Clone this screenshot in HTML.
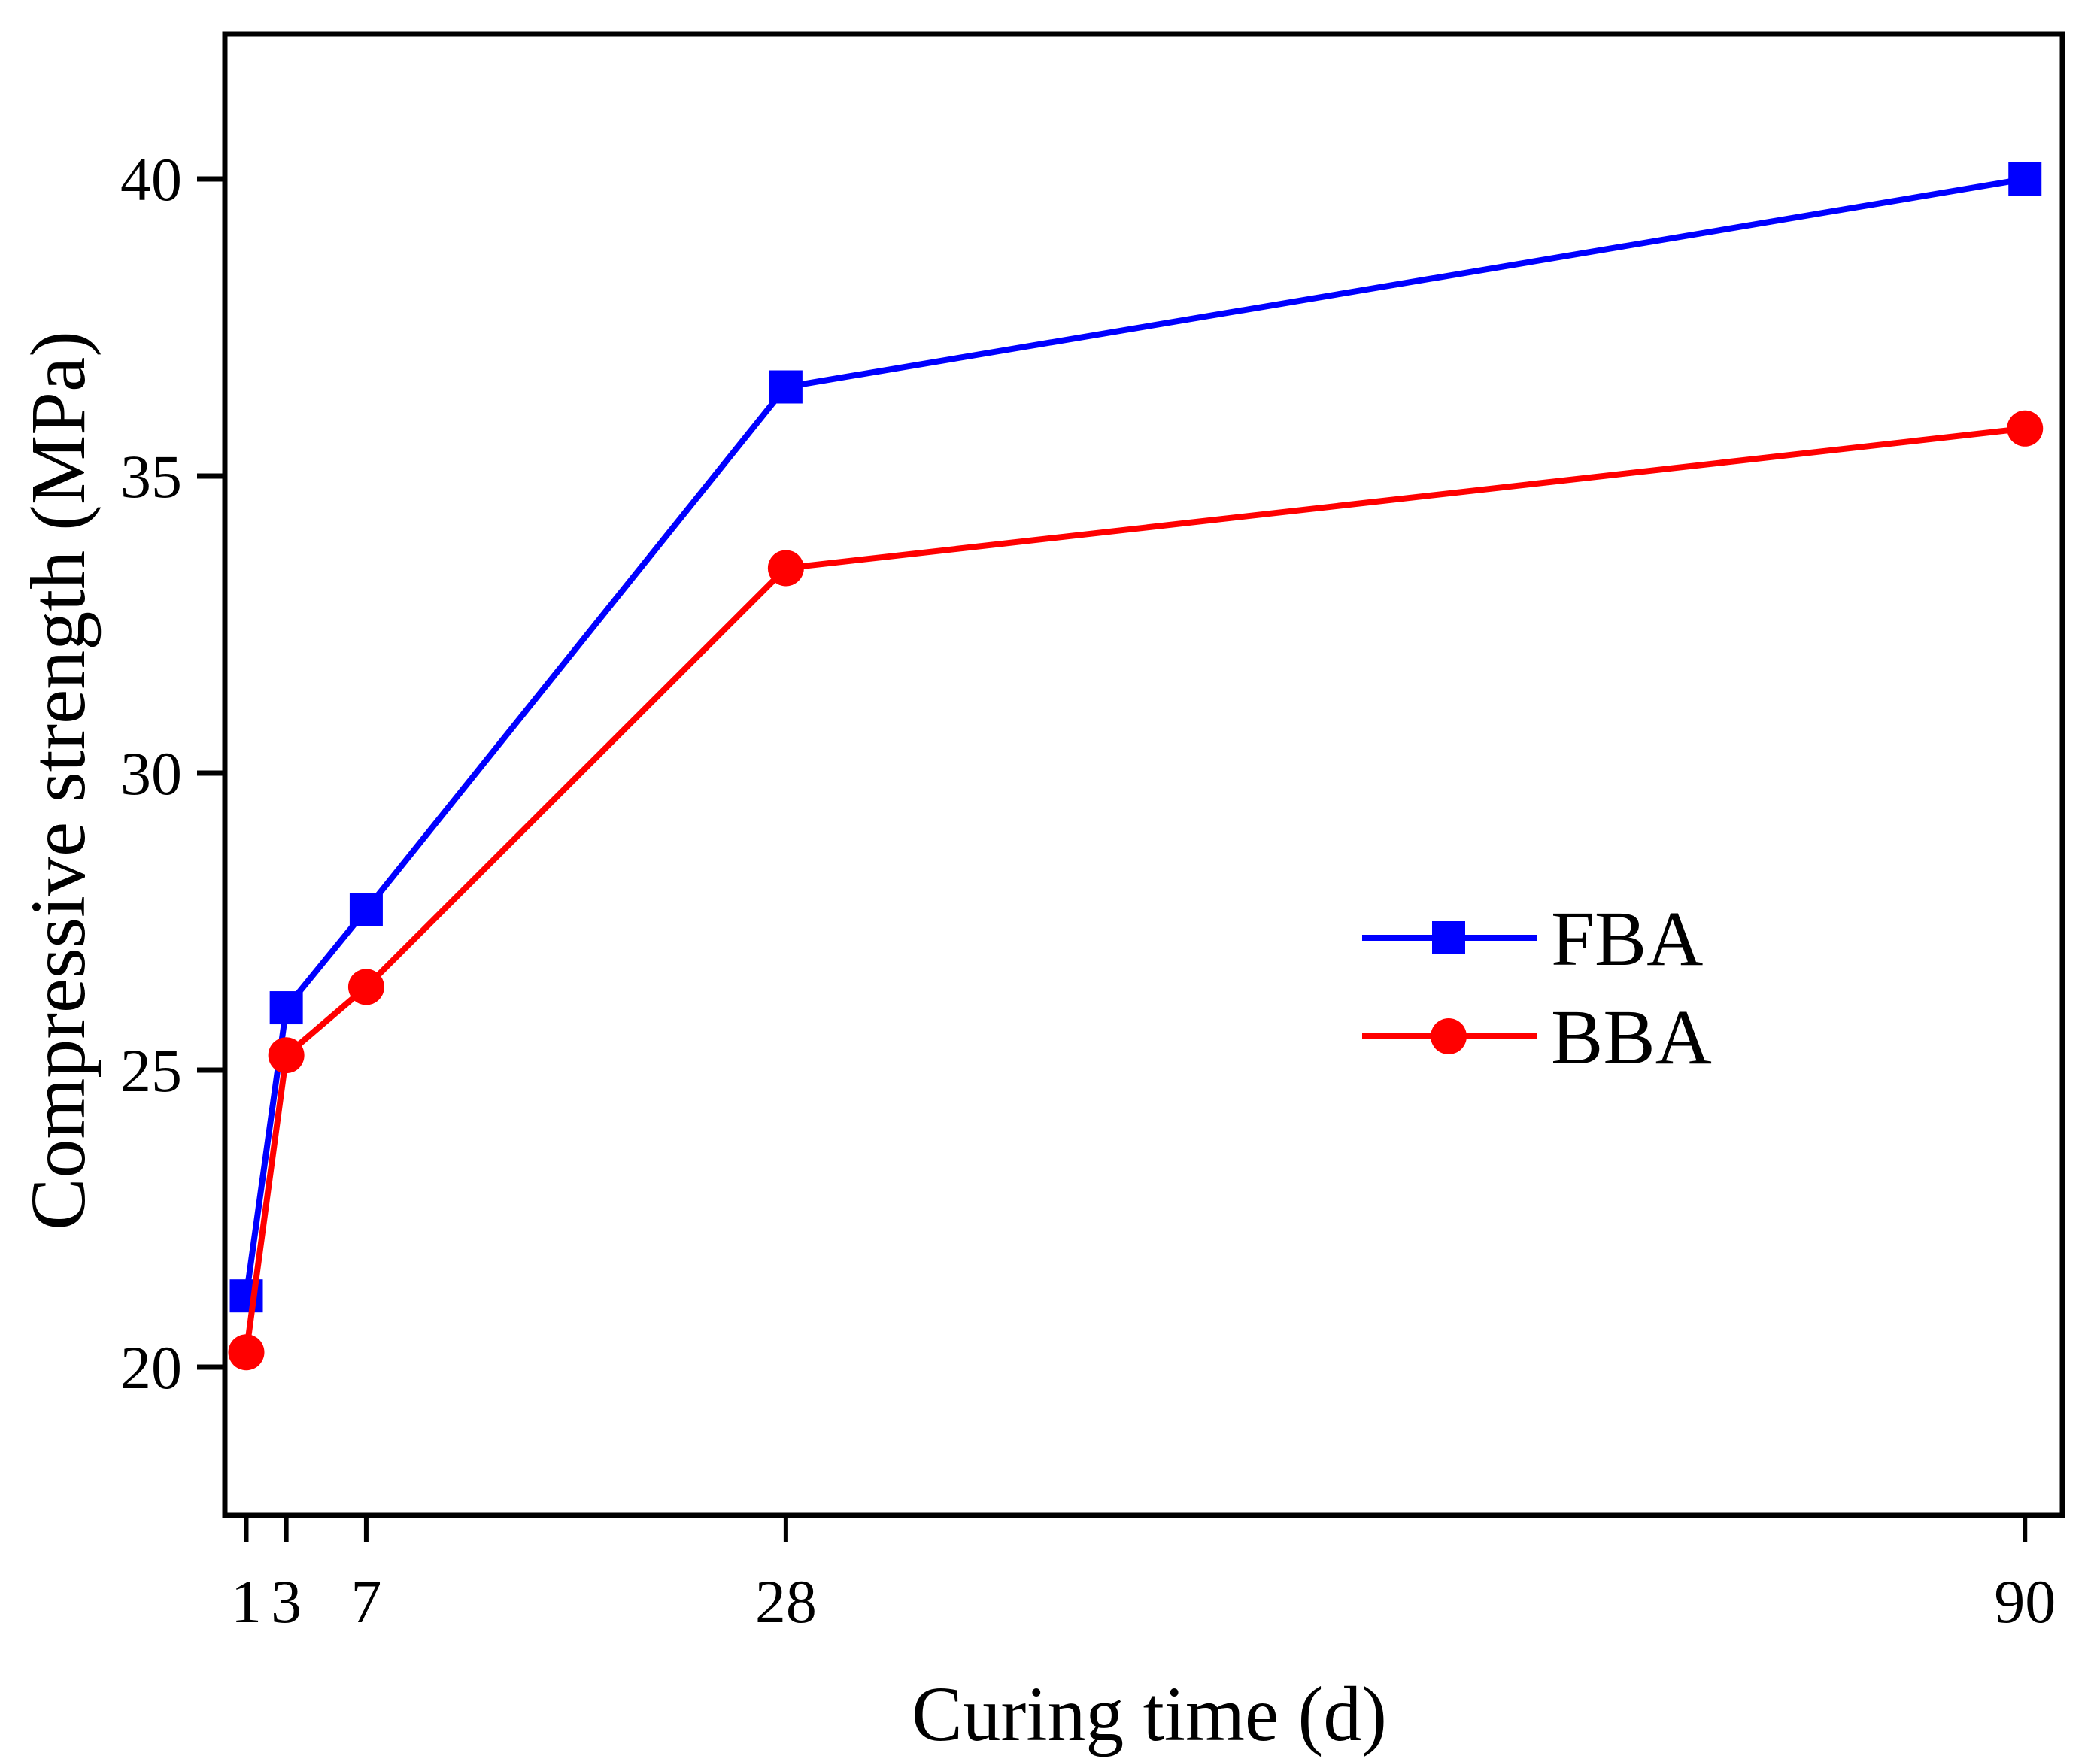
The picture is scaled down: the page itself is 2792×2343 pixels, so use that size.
<!DOCTYPE html>
<html><head><meta charset="utf-8">
<style>
html,body{margin:0;padding:0;background:#fff;}
svg{display:block;font-family:"Liberation Serif",serif;}
</style></head>
<body>
<svg id="chart" width="2792" height="2343" viewBox="0 0 2792 2343">
<rect x="0" y="0" width="2792" height="2343" fill="#fff"/>
<g id="axes"></g>
<g id="series"></g>
<g id="legend"></g>
</svg>
<script>
const days = [1, 3, 7, 28, 90];
const fbaValues = [21.2, 26.05, 27.7, 36.5, 40.0];
const bbaValues = [20.25, 25.25, 26.4, 33.45, 35.8];
const yTicks = [20, 25, 30, 35, 40];
const xTickLabels = ["1", "3", "7", "28", "90"];

const NS = "http://www.w3.org/2000/svg";
const L = 299, R = 2742, T = 45, B = 2015;
function xs(d){ return 327.5 + (d - 1) * 26.57; }
function ys(v){ return 1818 - (v - 20) * 79; }
function mk(tag, attrs, parent){
  const e = document.createElementNS(NS, tag);
  for (const k in attrs) e.setAttribute(k, attrs[k]);
  parent.appendChild(e);
  return e;
}
const axes = document.getElementById("axes");
const frame = mk("rect", {x:L, y:T, width:R-L, height:B-T, fill:"none", stroke:"#000", "stroke-width":7}, axes);



yTicks.forEach(v => {
  const y = ys(v);
  const t = mk("line", {x1:L-37, x2:L, y1:y, y2:y, stroke:"#000", "stroke-width":7}, axes);
  
  
  const lb = mk("text", {x:242, y:y+28, "text-anchor":"end", "font-size":82, fill:"#000"}, axes);
  lb.textContent = v;
  
  
});
days.forEach((d, i) => {
  const x = xs(d);
  const t = mk("line", {x1:x, x2:x, y1:B, y2:B+36, stroke:"#000", "stroke-width":6}, axes);
  
  
  const lb = mk("text", {x:x, y:2157, "text-anchor":"middle", "font-size":82, fill:"#000"}, axes);
  lb.textContent = xTickLabels[i];
  
  
});
const xt = mk("text", {x:1528, y:2314, "text-anchor":"middle", "font-size":104, fill:"#000", textLength:632, lengthAdjust:"spacingAndGlyphs"}, axes);
xt.textContent = "Curing time (d)";


const yt = mk("text", {x:0, y:0, "text-anchor":"middle", "font-size":104, fill:"#000", transform:"translate(112,1038) rotate(-90)"}, axes);
yt.textContent = "Compressive strength (MPa)";



const series = document.getElementById("series");
function drawSeries(vals, color, shape, name){
  const pts = vals.map((v, i) => xs(days[i]) + "," + ys(v)).join(" ");
  const pl = mk("polyline", {points:pts, fill:"none", stroke:color, "stroke-width":8, "stroke-linejoin":"round"}, series);
  
  
  vals.forEach((v, i) => {
    const x = xs(days[i]), y = ys(v);
    let m;
    if (shape === "square") m = mk("rect", {x:x-22, y:y-22, width:44, height:44, fill:color}, series);
    else m = mk("ellipse", {cx:x, cy:y, rx:24, ry:24, fill:color}, series);
    
    
  });
}
drawSeries(fbaValues, "#0000ff", "square", "fba");
drawSeries(bbaValues, "#ff0000", "circle", "bba");

const lg = document.getElementById("legend");


[["FBA","#0000ff","square",1247],["BBA","#ff0000","circle",1378]].forEach(e => {
  const g = mk("g", {}, lg);
  
  
  mk("line", {x1:1811, x2:2044, y1:e[3], y2:e[3], stroke:e[1], "stroke-width":8}, g);
  if (e[2] === "square") mk("rect", {x:1926-22, y:e[3]-22, width:44, height:44, fill:e[1]}, g);
  else mk("circle", {cx:1926, cy:e[3], r:24, fill:e[1]}, g);
  const t = mk("text", {x:2062, y:e[3]+36, "font-size":104, fill:"#000"}, g);
  t.textContent = e[0];
});
</script>
</body></html>
